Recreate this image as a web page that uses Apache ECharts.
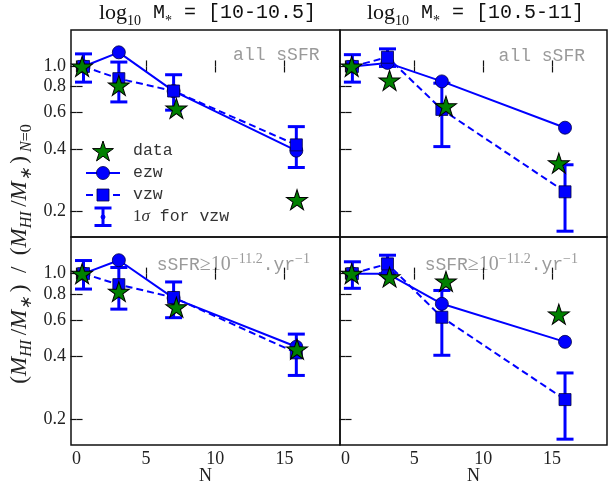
<!DOCTYPE html>
<html><head><meta charset="utf-8">
<script src="https://cdn.jsdelivr.net/npm/echarts@6/dist/echarts.min.js"></script>
<style>html,body{margin:0;padding:0;background:#fff}#c{width:616px;height:486px}</style>
</head><body><div id="c"></div>
<script>
// ---------- data ----------
const xTicks = [0, 5, 10, 15];
const yTicks = [0.2, 0.4, 0.6, 0.8, 1.0];
const yMin = 0.15, yMax = 1.5;
const xMin = -0.4, xMax = 19;

const titles = ['[10-10.5]', '[10.5-11]'];

const nModelLeft = [0.5, 3.05, 7.0, 15.85];
const nModelRight = [0.5, 3.05, 7.0, 15.95];
const nDataLeft = [0.4, 3.05, 7.2, 15.9];
const nDataRight = [0.45, 3.2, 7.3, 15.5];

// top-left : log M* 10-10.5, all sSFR
const tlEzw = [1.0, 1.17, 0.76, 0.392];
const tlVzw = [1.0, 0.873, 0.761, 0.418];
const tlVzwLo = [0.84, 0.674, 0.615, 0.325];
const tlVzwHi = [1.15, 1.05, 0.912, 0.512];
const tlData = [1.0, 0.81, 0.627, 0.227];
// top-right : log M* 10.5-11, all sSFR
const trEzw = [1.0, 1.04, 0.847, 0.506];
const trVzw = [1.0, 1.108, 0.62, 0.248];
const trVzwLo = [0.84, 1.0, 0.41, 0.16];
const trVzwHi = [1.14, 1.216, 0.83, 0.335];
const trData = [1.0, 0.857, 0.643, 0.341];
// bottom-left : log M* 10-10.5, sSFR >= 10^-11.2
const blEzw = [1.0, 1.16, 0.763, 0.445];
const blVzw = [1.0, 0.885, 0.768, 0.416];
const blVzwLo = [0.843, 0.675, 0.614, 0.324];
const blVzwHi = [1.156, 1.07, 0.912, 0.512];
const blData = [1.0, 0.82, 0.69, 0.433];
// bottom-right : log M* 10.5-11, sSFR >= 10^-11.2
const brEzw = [1.0, 1.0, 0.716, 0.47];
const brVzw = [1.0, 1.114, 0.617, 0.248];
const brVzwLo = [0.85, 1.0, 0.405, 0.16];
const brVzwHi = [1.14, 1.226, 0.83, 0.333];
const brData = [1.0, 0.963, 0.918, 0.638];

// ---------- build ----------
const L = Math.log10;
const BLUE = '#0000ff', GREEN = '#008000';
const SERIF = 'Liberation Serif', MONO = 'Liberation Mono';

function starPts(cx, cy, R) {
  const p = [];
  for (let k = 0; k < 10; k++) {
    const r = k % 2 === 0 ? R : R * 0.382;
    const a = (-90 + k * 36) * Math.PI / 180;
    p.push([cx + r * Math.cos(a), cy + r * Math.sin(a)]);
  }
  return p;
}
const starSymbol = 'path://' + starPts(0, 0, 1).map((q, i) => (i ? 'L' : 'M') + q[0].toFixed(4) + ' ' + q[1].toFixed(4)).join(' ') + ' Z';

const panels = [
  {box: {left: 71, top: 30, width: 269, height: 207}, ezw: tlEzw, vzw: tlVzw, lo: tlVzwLo, hi: tlVzwHi, data: tlData, nm: nModelLeft, nd: nDataLeft, showX: false, showY: true},
  {box: {left: 340, top: 30, width: 267, height: 207}, ezw: trEzw, vzw: trVzw, lo: trVzwLo, hi: trVzwHi, data: trData, nm: nModelRight, nd: nDataRight, showX: false, showY: false},
  {box: {left: 71, top: 237, width: 269, height: 208}, ezw: blEzw, vzw: blVzw, lo: blVzwLo, hi: blVzwHi, data: blData, nm: nModelLeft, nd: nDataLeft, showX: true, showY: true},
  {box: {left: 340, top: 237, width: 267, height: 208}, ezw: brEzw, vzw: brVzw, lo: brVzwLo, hi: brVzwHi, data: brData, nm: nModelRight, nd: nDataRight, showX: true, showY: false}
];

const grids = [], xAxes = [], yAxes = [], series = [];
const tickStyle = {color: '#111', width: 1.2};
panels.forEach((p, i) => {
  grids.push(Object.assign({show: true, borderColor: '#111', borderWidth: 1.5, backgroundColor: 'transparent', containLabel: false, outerBoundsMode: 'none'}, p.box));
  ['bottom', 'top'].forEach(pos => {
    xAxes.push({gridIndex: i, type: 'value', min: xMin, max: xMax, position: pos,
      axisLine: {show: false}, splitLine: {show: false},
      axisTick: {show: true, inside: true, length: 6, customValues: xTicks, lineStyle: tickStyle},
      axisLabel: {show: p.showX && pos === 'bottom', customValues: xTicks, margin: 5,
        fontFamily: SERIF, fontSize: 18, color: '#222'}});
  });
  ['left', 'right'].forEach(pos => {
    yAxes.push({gridIndex: i, type: 'value', min: L(yMin), max: L(yMax), position: pos,
      axisLine: {show: false}, splitLine: {show: false},
      axisTick: {show: true, inside: true, length: 6, customValues: yTicks.map(L), lineStyle: tickStyle},
      axisLabel: {show: p.showY && pos === 'left', customValues: yTicks.map(L), margin: 5,
        fontFamily: SERIF, fontSize: 18, color: '#222',
        formatter: v => Math.pow(10, v).toFixed(1)}});
  });
  const xi = i * 2, yi = i * 2;
  series.push({type: 'custom', xAxisIndex: xi, yAxisIndex: yi, z: 2, silent: true,
    data: p.nm.map((n, k) => [n, L(p.lo[k]), L(p.hi[k]), L(p.vzw[k])]),
    encode: {x: 0, y: [1, 2, 3]},
    renderItem: function (params, api) {
      const x = api.value(0);
      const a = api.coord([x, api.value(1)]);
      const b = api.coord([x, api.value(2)]);
      const m = api.coord([x, api.value(3)]);
      const cw = 8.5, st = {stroke: BLUE, lineWidth: 3};
      return {type: 'group', children: [
        {type: 'line', shape: {x1: a[0], y1: a[1], x2: b[0], y2: b[1]}, style: st},
        {type: 'line', shape: {x1: a[0] - cw, y1: a[1], x2: a[0] + cw, y2: a[1]}, style: st},
        {type: 'line', shape: {x1: b[0] - cw, y1: b[1], x2: b[0] + cw, y2: b[1]}, style: st},
        {type: 'circle', shape: {cx: m[0], cy: m[1], r: 2}, style: {fill: '#fff', stroke: BLUE, lineWidth: 1}}
      ]};
    }});
  series.push({type: 'line', xAxisIndex: xi, yAxisIndex: yi, z: 3, silent: true,
    data: p.nm.map((n, k) => [n, L(p.ezw[k])]),
    symbol: 'circle', symbolSize: 13, showAllSymbol: true,
    lineStyle: {color: BLUE, width: 2},
    itemStyle: {color: BLUE, borderColor: '#000044', borderWidth: 0.8}});
  series.push({type: 'line', xAxisIndex: xi, yAxisIndex: yi, z: 4, silent: true,
    data: p.nm.map((n, k) => [n, L(p.vzw[k])]),
    symbol: 'rect', symbolSize: 12, showAllSymbol: true,
    lineStyle: {color: BLUE, width: 2, type: [7, 4]},
    itemStyle: {color: BLUE, borderColor: '#000044', borderWidth: 0.8}});
  series.push({type: 'scatter', xAxisIndex: xi, yAxisIndex: yi, z: 6, silent: true,
    data: p.nd.map((n, k) => [n, L(p.data[k])]),
    symbol: starSymbol, symbolSize: [21, 20],
    itemStyle: {color: GREEN, borderColor: '#000', borderWidth: 1, opacity: 1}});
});

// ---------- texts & legend ----------
const graphics = [];
const titleRich = {
  lg: {fontFamily: SERIF, fontSize: 22, lineHeight: 30, verticalAlign: 'middle', fill: '#111'},
  sb: {fontFamily: SERIF, fontSize: 14, lineHeight: 14, verticalAlign: 'bottom', fill: '#111'},
  m: {fontFamily: MONO, fontSize: 20, lineHeight: 30, verticalAlign: 'middle', fill: '#111'}
};
[[205.5, titles[0]], [473.5, titles[1]]].forEach(([cx, t]) => {
  graphics.push({type: 'text', x: cx + 2, y: 13, silent: true, style: {
    text: '{lg|log}{sb|10}{m| M}{sb|*}{m| = ' + t + '}', rich: titleRich,
    align: 'center', verticalAlign: 'middle', textAlign: 'center', textVerticalAlign: 'middle'}});
});
const GREY = '#9a9a9a';
[[319.5, 55], [585, 56.5]].forEach(([x, y]) => {
  graphics.push({type: 'text', x: x, y: y, silent: true, style: {
    text: 'all sSFR', fontFamily: MONO, fontSize: 18, fill: GREY,
    align: 'right', verticalAlign: 'middle', textAlign: 'right', textVerticalAlign: 'middle'}});
});
const sRich = {
  m: {fontFamily: MONO, fontSize: 18, lineHeight: 26, verticalAlign: 'middle', fill: GREY},
  ge: {fontFamily: SERIF, fontSize: 20, lineHeight: 26, verticalAlign: 'middle', fill: GREY},
  n: {fontFamily: SERIF, fontSize: 20, lineHeight: 26, verticalAlign: 'middle', fill: GREY},
  sp: {fontFamily: SERIF, fontSize: 14, lineHeight: 12, verticalAlign: 'top', fill: GREY}
};
[[310, 265], [578, 265]].forEach(([x, y]) => {
  graphics.push({type: 'text', x: x, y: y, silent: true, style: {
    text: '{m|sSFR}{ge|≥}{n|10}{sp|−11.2}{m|.yr}{sp|−1}', rich: sRich,
    align: 'right', verticalAlign: 'middle', textAlign: 'right', textVerticalAlign: 'middle'}});
});
// axis titles
[205.5, 473.5].forEach(cx => {
  graphics.push({type: 'text', x: cx, y: 476, silent: true, style: {
    text: 'N', fontFamily: SERIF, fontSize: 18, fill: '#222',
    align: 'center', verticalAlign: 'middle', textAlign: 'center', textVerticalAlign: 'middle'}});
});
const yRich = {
  p: {fontFamily: SERIF, fontSize: 23, lineHeight: 30, verticalAlign: 'middle', fill: '#222'},
  i: {fontFamily: SERIF, fontStyle: 'italic', fontSize: 23, lineHeight: 30, verticalAlign: 'middle', fill: '#222'},
  s: {fontFamily: SERIF, fontStyle: 'italic', fontSize: 16, lineHeight: 15, verticalAlign: 'bottom', fill: '#222'},
  sr: {fontFamily: SERIF, fontSize: 16, lineHeight: 15, verticalAlign: 'bottom', fill: '#222'}
};
graphics.push({type: 'text', x: 20, y: 254, rotation: Math.PI / 2, silent: true, style: {
  text: '{p|(}{i|M}{s|HI}{p|\u2009/}{i|M}{s|∗}{p|\u2009)  /  (}{i|M}{s|HI}{p|\u2009/}{i|M}{s|∗}{p|\u2009)}{sr| }{s|N}{sr|=0}',
  rich: yRich, align: 'center', verticalAlign: 'middle', textAlign: 'center', textVerticalAlign: 'middle'}});

// legend (inside top-left panel)
const lx = 103, tx = 133, rows = [151, 173, 195, 217];
const legTxt = {fontFamily: MONO, fontSize: 16.5, fill: '#333'};
graphics.push({type: 'polygon', silent: true, shape: {points: starPts(lx, rows[0] + 1, 11)}, style: {fill: GREEN, stroke: '#000', lineWidth: 1}});
graphics.push({type: 'line', silent: true, shape: {x1: 86, y1: rows[1], x2: 120, y2: rows[1]}, style: {stroke: BLUE, lineWidth: 2}});
graphics.push({type: 'circle', silent: true, shape: {cx: lx, cy: rows[1], r: 6.5}, style: {fill: BLUE, stroke: '#000044', lineWidth: 0.8}});
graphics.push({type: 'line', silent: true, shape: {x1: 86, y1: rows[2], x2: 93, y2: rows[2]}, style: {stroke: BLUE, lineWidth: 2}});
graphics.push({type: 'line', silent: true, shape: {x1: 113, y1: rows[2], x2: 120, y2: rows[2]}, style: {stroke: BLUE, lineWidth: 2}});
graphics.push({type: 'rect', silent: true, shape: {x: lx - 6, y: rows[2] - 6, width: 12, height: 12}, style: {fill: BLUE, stroke: '#000044', lineWidth: 0.8}});
graphics.push({type: 'line', silent: true, shape: {x1: lx, y1: rows[3] - 9, x2: lx, y2: rows[3] + 8.5}, style: {stroke: BLUE, lineWidth: 3}});
graphics.push({type: 'line', silent: true, shape: {x1: lx - 8.5, y1: rows[3] - 9, x2: lx + 8.5, y2: rows[3] - 9}, style: {stroke: BLUE, lineWidth: 3}});
graphics.push({type: 'line', silent: true, shape: {x1: lx - 8.5, y1: rows[3] + 8.5, x2: lx + 8.5, y2: rows[3] + 8.5}, style: {stroke: BLUE, lineWidth: 3}});
graphics.push({type: 'circle', silent: true, shape: {cx: lx, cy: rows[3], r: 2}, style: {fill: BLUE, stroke: BLUE, lineWidth: 1}});
['data', 'ezw', 'vzw'].forEach((t, k) => {
  graphics.push({type: 'text', x: tx, y: rows[k], silent: true, style: Object.assign({text: t,
    align: 'left', verticalAlign: 'middle', textAlign: 'left', textVerticalAlign: 'middle'}, legTxt)});
});
graphics.push({type: 'text', x: tx, y: rows[3], silent: true, style: {
  text: '{r|1}{g|σ}{m| for vzw}',
  rich: {r: {fontFamily: SERIF, fontSize: 17, fill: '#333'}, g: {fontFamily: SERIF, fontStyle: 'italic', fontSize: 17, fill: '#333'}, m: legTxt},
  align: 'left', verticalAlign: 'middle', textAlign: 'left', textVerticalAlign: 'middle'}});

const chart = echarts.init(document.getElementById('c'), null, {renderer: 'canvas'});
chart.setOption({
  animation: false,
  backgroundColor: '#fff',
  grid: grids, xAxis: xAxes, yAxis: yAxes, series: series,
  graphic: {elements: graphics}
});
</script>
</body></html>
